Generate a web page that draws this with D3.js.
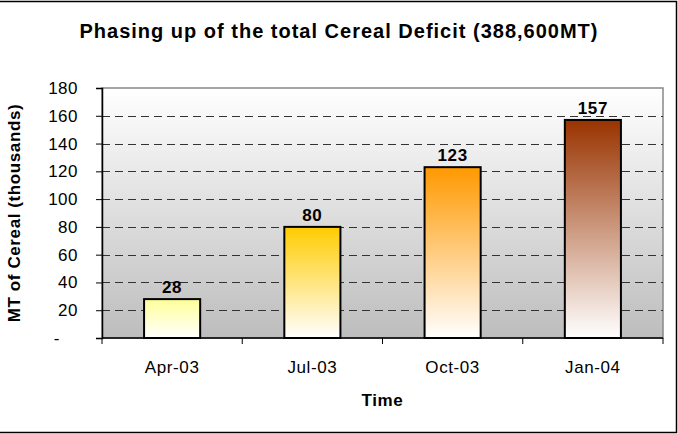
<!DOCTYPE html>
<html>
<head>
<meta charset="utf-8">
<script src="https://cdn.jsdelivr.net/npm/d3@7"></script>
<style>
body{margin:0;background:#fff;}
svg{display:block;font-family:Arial,"Liberation Sans",sans-serif;}
</style>
</head>
<body>
<div id="chart"></div>
<script>
// chart data
var categories=["Apr-03","Jul-03","Oct-03","Jan-04"];
var values=[28,80,123,157];
var topColors=["#ffff99","#ffcc00","#ff9900","#993300"];
var yTicks=[0,20,40,60,80,100,120,140,160,180];

var W=678,H=434;
var margin={top:88,right:15,bottom:96,left:102};
var width=W-margin.left-margin.right,
    height=H-margin.top-margin.bottom;

var svg=d3.select("#chart").append("svg")
	.attr("width",W)
	.attr("height",H);

// outer frame
svg.append("rect")
	.attr("x",-1).attr("y",1.5)
	.attr("width",677.5).attr("height",431)
	.attr("fill","#fff").attr("stroke","#000").attr("stroke-width",1.5);

var defs=svg.append("defs");
var bg=defs.append("linearGradient").attr("id","bg")
	.attr("x1","0%").attr("y1","0%").attr("x2","0%").attr("y2","100%");
bg.append("stop").attr("offset","0%").attr("stop-color","#ffffff");
bg.append("stop").attr("offset","100%").attr("stop-color","#bdbdbd");

topColors.forEach(function(c,i){
	var g=defs.append("linearGradient").attr("id","bar"+i)
		.attr("x1","0%").attr("y1","0%").attr("x2","0%").attr("y2","100%");
	g.append("stop").attr("offset","0%").attr("stop-color",c);
	g.append("stop").attr("offset","100%").attr("stop-color","#ffffff");
});

var x=d3.scaleBand().domain(categories).range([0,width]).paddingInner(0.6).paddingOuter(0.3);
var y=d3.scaleLinear().domain([0,180]).range([height,0]);

var g=svg.append("g").attr("transform","translate("+margin.left+","+margin.top+")");

g.append("rect")
	.attr("width",width).attr("height",height)
	.attr("fill","url(#bg)")
	.attr("stroke","#888").attr("stroke-width",1.5);

// gridlines
g.selectAll(".grid").data(yTicks.slice(1,-1)).enter()
	.append("line")
	.attr("x1",0).attr("x2",width)
	.attr("y1",function(d){return Math.round(y(d))+0.5;})
	.attr("y2",function(d){return Math.round(y(d))+0.5;})
	.attr("stroke","#333").attr("stroke-width",1)
	.attr("stroke-dasharray","8,5");

// bars
g.selectAll(".bar").data(values).enter()
	.append("rect")
	.attr("x",function(d,i){return x(categories[i]);})
	.attr("y",function(d){return y(d);})
	.attr("width",x.bandwidth())
	.attr("height",function(d){return height-y(d);})
	.attr("fill",function(d,i){return "url(#bar"+i+")";})
	.attr("stroke","#000").attr("stroke-width",2);

// value labels
g.selectAll(".val").data(values).enter()
	.append("text")
	.attr("x",function(d,i){return x(categories[i])+x.bandwidth()/2;})
	.attr("y",function(d){return y(d)-6;})
	.attr("text-anchor","middle")
	.attr("font-size","17px").attr("font-weight","bold")
	.attr("letter-spacing","0.6px")
	.text(function(d){return d;});

// y axis
var yAxis=d3.axisLeft(y).tickValues(yTicks).tickSize(6)
	.tickFormat(function(d){return d===0?"-":d;});
var ya=g.append("g").call(yAxis);
ya.select(".domain").attr("stroke","#000").attr("stroke-width",1.5);
ya.selectAll(".tick line").attr("stroke","#000");
ya.selectAll(".tick text")
	.attr("font-size","17px").attr("fill","#000").attr("letter-spacing","0.5px")
	.attr("x",function(d){return d===0?-42:-24;})
	.style("font-family","Arial,'Liberation Sans',sans-serif");

// x axis: ticks on band boundaries
var xa=g.append("g").attr("transform","translate(0,"+height+")");
xa.append("line").attr("x1",0).attr("x2",width)
	.attr("stroke","#000").attr("stroke-width",1.5);
var step=width/categories.length;
xa.selectAll(".xt").data(d3.range(categories.length+1)).enter()
	.append("line")
	.attr("x1",function(d){return d*step;}).attr("x2",function(d){return d*step;})
	.attr("y1",0).attr("y2",6)
	.attr("stroke","#000");
xa.selectAll(".xl").data(categories).enter()
	.append("text")
	.attr("x",function(d){return x(d)+x.bandwidth()/2;})
	.attr("y",35)
	.attr("text-anchor","middle")
	.attr("font-size","17px").attr("letter-spacing","0.6px")
	.text(function(d){return d;});

// titles
svg.append("text")
	.attr("x",339).attr("y",38)
	.attr("text-anchor","middle")
	.attr("font-size","20px").attr("font-weight","bold")
	.attr("letter-spacing","1px")
	.text("Phasing up of the total Cereal Deficit (388,600MT)");

svg.append("text")
	.attr("x",margin.left+width/2).attr("y",406)
	.attr("text-anchor","middle")
	.attr("font-size","17px").attr("font-weight","bold")
	.attr("letter-spacing","0.6px")
	.text("Time");

svg.append("text")
	.attr("transform","translate(20,"+(margin.top+height/2)+") rotate(-90)")
	.attr("text-anchor","middle")
	.attr("font-size","17px").attr("font-weight","bold")
	.attr("letter-spacing","0.6px")
	.text("MT of Cereal (thousands)");
</script>
</body>
</html>
